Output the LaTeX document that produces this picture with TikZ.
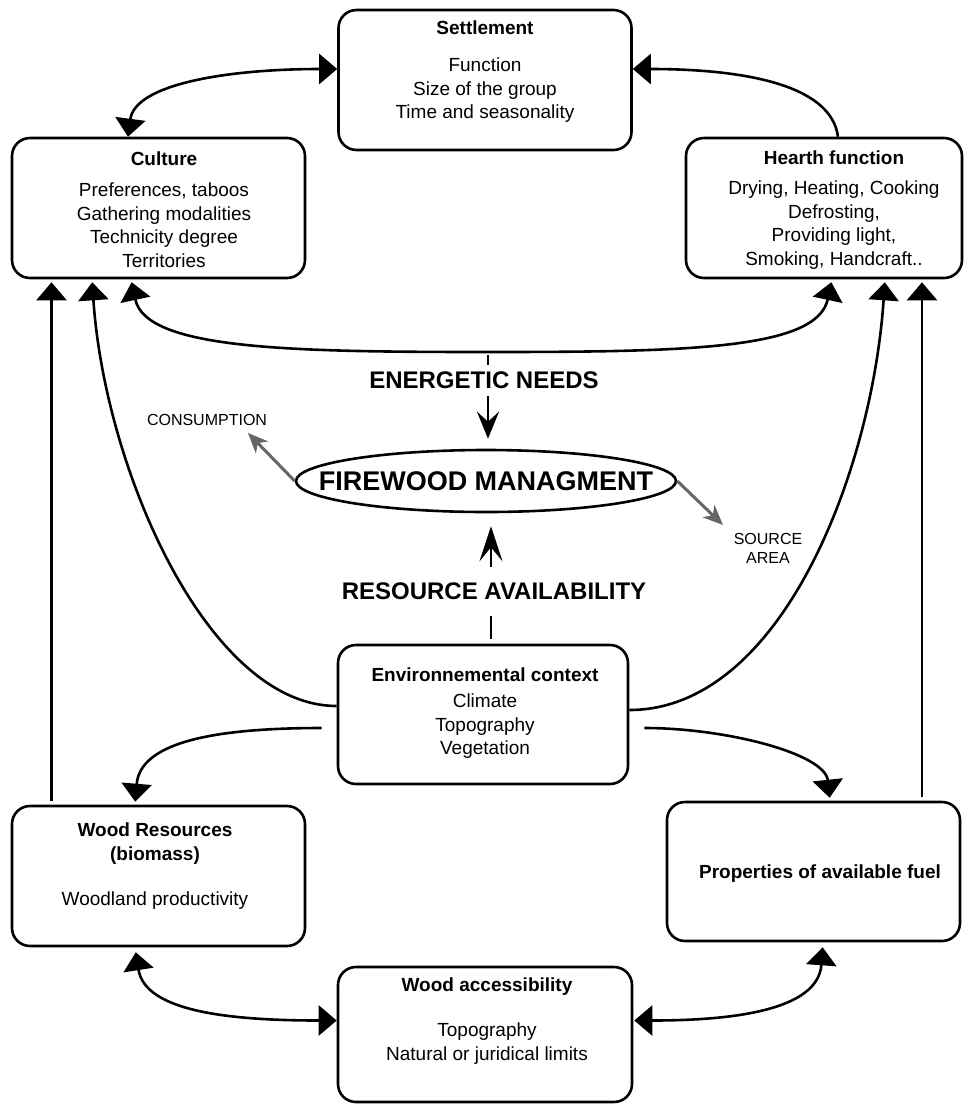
\documentclass[tikz,border=0pt]{standalone}
\usepackage{fontspec}
\setmainfont{Liberation Sans}
\usetikzlibrary{arrows.meta,shapes.geometric}
\definecolor{arrowgray}{gray}{0.4}
\tikzset{
  >={Triangle[width=30pt,length=18pt]},
}
\tikzstyle{block}=[draw,line width=2.6pt,rounded corners=18pt,minimum width=293pt,minimum height=140pt,inner sep=0pt]
\tikzstyle{txt}=[align=center,anchor=north,inner sep=0pt,font=\fontsize{19}{23.5}\selectfont]
\tikzstyle{link}=[line width=2.6pt]
\tikzstyle{needs}=[line width=2.6pt,-{Stealth[length=27pt,width=22pt,inset=10pt]},shorten >=10pt]
\tikzstyle{caption}=[fill=white,inner xsep=4pt,inner ysep=7pt,font=\fontsize{24}{28}\selectfont\bfseries]
\tikzstyle{output}=[draw=arrowgray,line width=3pt,-{Stealth[length=20pt,width=17pt,inset=6pt]}]
\tikzstyle{note}=[align=center,inner sep=0pt,font=\fontsize{16}{19}\selectfont]

\begin{document}
\begin{tikzpicture}[x=1pt,y=-1pt]
    \useasboundingbox (0,0) rectangle (966,1104);
    % boxes
    \node[block] (settle) at (485,80) {};
    \node[block] (cult) at (158.5,208) {};
    \node[block,minimum width=276pt] (hearth) at (824,208) {};
    \node[block,minimum width=290pt,minimum height=139pt] (env) at (483,714.5) {};
    \node[block] (wood) at (158.5,876) {};
    \node[block,minimum height=139pt] (prop) at (813.5,871.5) {};
    \node[block,minimum width=294pt,minimum height=135pt] (access) at (485,1034.5) {};
    % box texts
    \node[txt] (settle-t) at (485,21) {\textbf{Settlement}\\[13.5pt] Function\\ Size of the group\\ Time and seasonality};
    \node[txt] (cult-t) at (164,152) {\textbf{Culture}\\[7.5pt] Preferences, taboos\\ Gathering modalities\\ Technicity degree\\ Territories};
    \node[txt] (hearth-t) at (834,151) {\textbf{Hearth function}\\[6.5pt] Drying, Heating, Cooking\\ Defrosting,\\ Providing light,\\ Smoking, Handcraft..};
    \node[txt] (env-t) at (485,668) {\textbf{Environnemental context}\\[2.5pt] Climate\\ Topography\\ Vegetation};
    \node[txt] (wood-t) at (155,823) {\textbf{Wood Resources}\\ \textbf{(biomass)}\\[21.5pt] Woodland productivity};
    \node[txt] (prop-t) at (820,865) {\textbf{Properties of available fuel}};
    \node[txt] (access-t) at (487,978) {\textbf{Wood accessibility}\\[21.5pt] Topography\\ Natural or juridical limits};
    % centre
    \node[draw,ellipse,line width=2.6pt,minimum width=380pt,minimum height=62pt,inner xsep=-60pt,inner ysep=0pt,font=\fontsize{27}{30}\selectfont\bfseries] (firewood) at (486,481) {FIREWOOD MANAGMENT};
    \node[note] (cons) at (207,420) {CONSUMPTION};
    \node[note] (source) at (768,548) {SOURCE\\AREA};
    \coordinate (hub) at (488,352);
    \coordinate (cons-tip) at (248,433);
    \coordinate (source-tip) at (723,525);
    % links at the top
    \draw[link,<->] ([xshift=-30.5pt]cult.north) .. controls +(7,-53) and +(-108,0) .. ([yshift=11pt]settle.west);
    \draw[link,->] ([xshift=14pt]hearth.north) .. controls +(-7,-53) and +(108,0) .. ([yshift=11pt]settle.east);
    \draw[link,<->,shorten >=3pt,shorten <=3pt] ([xshift=-27.5pt]cult.south) .. controls +(15,70) and +(-200,0) .. (hub)
      .. controls +(200,0) and +(-15,70) .. ([xshift=8pt]hearth.south);
    \draw[link,->,shorten >=3pt,shorten <=4pt] ([xshift=-107pt]wood.north) -- ([xshift=-107pt]wood.north |- cult.south);
    \draw[link,->,shorten >=3pt,shorten <=4pt] ([xshift=108.5pt]prop.north) -- ([xshift=108.5pt]prop.north |- hearth.south);
    \draw[link,->,shorten >=3pt] ([yshift=8.5pt]env.west) .. controls +(-128,0) and +(13,192) .. ([xshift=-66.5pt]cult.south);
    \draw[link,->,shorten >=3pt] ([yshift=4.5pt]env.east) .. controls +(152,0) and +(-13,192) .. ([xshift=61pt]hearth.south);
    % links at the bottom
    \draw[link,->,shorten >=3pt] ([xshift=-15pt,yshift=-13.5pt]env.west) .. controls +(-113,0) and +(5,-61) .. ([xshift=-23.5pt]wood.north);
    \draw[link,->,shorten >=3pt] ([xshift=15pt,yshift=-13.5pt]env.east) .. controls +(82,0) and +(-5,-47) .. ([xshift=16.5pt]prop.north);
    \draw[link,<->,shorten <=5pt] ([xshift=-23.5pt]wood.south) .. controls +(10,64) and +(-108,0) .. ([yshift=14pt]access.west);
    \draw[link,<->,shorten <=5pt,shorten >=1pt] ([xshift=9.5pt]prop.south) .. controls +(-5,69) and +(96,0) .. ([yshift=14pt]access.east);
    % needs and resources
    \draw[needs,shorten <=3pt] (hub) -- (hub |- firewood.north);
    \draw[needs,-{Stealth[length=35pt,width=23pt,inset=14pt]},shorten >=13pt,shorten <=5pt] ([xshift=8pt]env.north) -- ([xshift=8pt]env.north |- firewood.south);
    \node[caption] (needs-t) at (484,380) {ENERGETIC NEEDS};
    \node[caption,inner ysep=16pt] (res-t) at (494,591) {RESOURCE AVAILABILITY};
    \draw[output] (firewood.west) -- (cons-tip);
    \draw[output] (firewood.east) -- (source-tip);
\end{tikzpicture}
\end{document}
